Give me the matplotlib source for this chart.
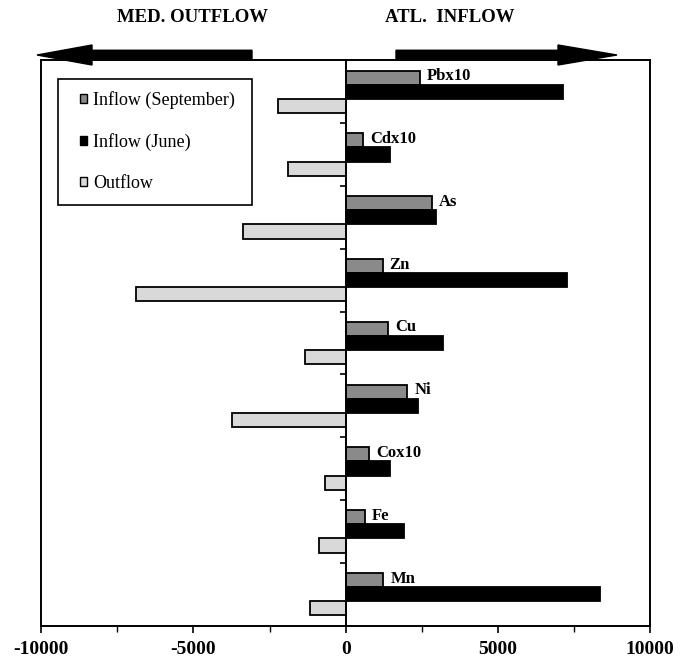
# ======================================
# TRACE METAL FLUXES — STRAIT EXCHANGE
# ======================================

import numpy as np
import matplotlib
matplotlib.use("Agg")
import matplotlib.pyplot as plt
from matplotlib.patches import FancyArrow, Patch, Rectangle

# ======================================
# DATA
# ======================================

elements = ["Pbx10", "Cdx10", "As", "Zn", "Cu", "Ni", "Cox10", "Fe", "Mn"]

inflow_sep = [2450, 565, 2820, 1210, 1405, 2030, 780, 630, 1240]
inflow_jun = [7150, 1440, 2980, 7270, 3200, 2390, 1460, 1920, 8360]
outflow    = [-2210, -1890, -3370, -6890, -1340, -3740, -670, -890, -1170]

series_labels = ["Inflow (September)", "Inflow (June)", "Outflow"]

# ======================================
# STYLE
# ======================================

plt.rcParams['font.family'] = ['Liberation Serif', 'DejaVu Serif']
plt.rcParams['axes.unicode_minus'] = False

C_SEP = "#8a8a8a"
C_JUN = "#000000"
C_OUT = "#d9d9d9"

BAR_H = 0.225
EDGE = 1.3

# ======================================
# FIGURE
# ======================================

fig = plt.figure(figsize=(6.81, 6.61), dpi=100)
ax = fig.add_axes([0.0606, 0.0537, 0.894, 0.855])

y = np.arange(len(elements))

ax.barh(y - BAR_H, inflow_sep, height=BAR_H, color=C_SEP, edgecolor="black", linewidth=EDGE)
ax.barh(y, inflow_jun, height=BAR_H, color=C_JUN, edgecolor="black", linewidth=EDGE)
ax.barh(y + BAR_H, outflow, height=BAR_H, color=C_OUT, edgecolor="black", linewidth=EDGE)

# element names next to the September bars
for yi, name, v in zip(y, elements, inflow_sep):
    ax.annotate(name, (v, yi - BAR_H), xytext=(5, 1), textcoords="offset points",
                ha="left", va="center", fontsize=12, fontweight="bold")

ax.set_xlim(-10000, 10000)
ax.set_ylim(len(elements) - 0.5, -0.5)

# ======================================
# AXES
# ======================================

ax.spines['left'].set_position(('data', 0))
for s in ax.spines.values():
    s.set_linewidth(1.4)
ax.plot([0, 0], [0, 1], transform=ax.transAxes, color="black", lw=1.4, clip_on=False)

ax.set_yticks(y[:-1] + 0.5)
ax.set_yticklabels([])
ax.tick_params(axis='y', direction='out', length=4, width=1.2)

ax.set_xticks([-10000, -5000, 0, 5000, 10000])
ax.set_xticks([-7500, -2500, 2500, 7500], minor=True)
ax.tick_params(axis='x', which='major', direction='out', length=5, width=1.2, pad=6,
               labelsize=14)
ax.tick_params(axis='x', which='minor', direction='out', length=4, width=1.0)
for lab in ax.get_xticklabels():
    lab.set_fontweight("bold")

# ======================================
# LEGEND (box drawn separately for wider left margin)
# ======================================

handles = [Patch(facecolor=c, edgecolor="black", linewidth=1.0)
           for c in (C_SEP, C_JUN, C_OUT)]
leg = ax.legend(handles, series_labels, loc="upper left", bbox_to_anchor=(0.064, 0.946),
                borderaxespad=0, borderpad=0, fontsize=13, handlelength=0.4,
                handleheight=0.4, handletextpad=0.33, labelspacing=1.33,
                frameon=False)
ax.add_patch(Rectangle((0.0268, 0.7442), 0.3192, 0.2231, transform=ax.transAxes,
                       fill=True, facecolor="white", edgecolor="black",
                       linewidth=1.2, zorder=4))
leg.set_zorder(5)

# ======================================
# DIRECTION ARROWS
# ======================================

W, H = 681.0, 661.0
ay = (H - 55) / H

fig.add_artist(FancyArrow(252 / W, ay, (37 - 252) / W, 0, width=9.5 / H,
                          head_width=20 / H, head_length=55 / W,
                          length_includes_head=True, color="black",
                          transform=fig.transFigure))
fig.add_artist(FancyArrow(396 / W, ay, (617 - 396) / W, 0, width=9.5 / H,
                          head_width=20 / H, head_length=59 / W,
                          length_includes_head=True, color="black",
                          transform=fig.transFigure))

fig.text(192 / W, (H - 17) / H, "MED. OUTFLOW", ha="center", va="center",
         fontsize=13.5, fontweight="bold")
fig.text(450 / W, (H - 17) / H, "ATL.  INFLOW", ha="center", va="center",
         fontsize=13.5, fontweight="bold")

fig.savefig("out.png", dpi=100)
